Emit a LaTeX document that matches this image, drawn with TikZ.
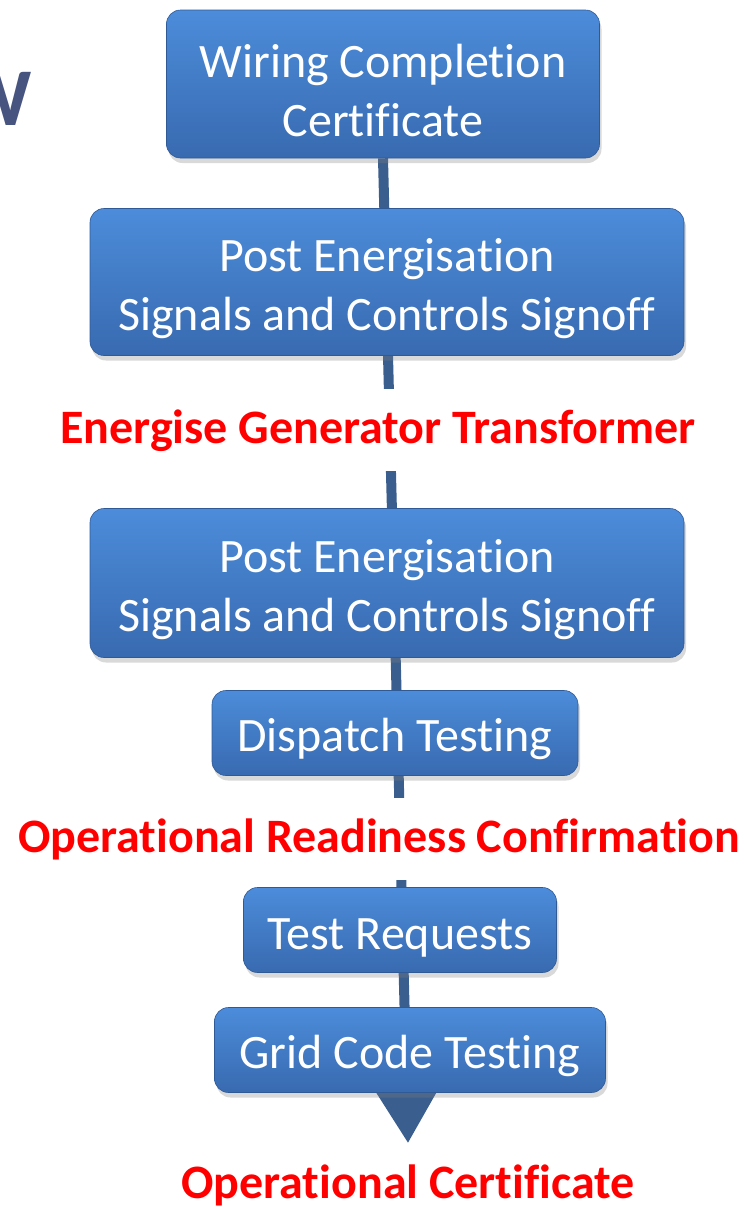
\documentclass[tikz,border=0pt]{standalone}
\usepackage{fontspec}
\setmainfont{Carlito}[Ligatures=NoCommon]
\usetikzlibrary{arrows.meta,shadows,backgrounds}
\definecolor{boxtop}{RGB}{76,140,218}
\definecolor{boxbot}{RGB}{56,106,176}
\definecolor{flowline}{RGB}{58,94,142}
\definecolor{stagered}{RGB}{255,0,0}
\definecolor{titleblue}{RGB}{72,84,128}

\tikzset{
  stepbox/.style={rectangle, rounded corners=14pt, top color=boxtop, bottom color=boxbot,
    draw=boxbot!85!black, line width=0.6pt, text=white, align=center, inner sep=0pt,
    font=\fontsize{48}{59}\selectfont, execute at begin node={\rule{0pt}{46pt}},
    drop shadow={shadow xshift=2pt, shadow yshift=-5pt, opacity=0.3}},
  stagelabel/.style={fill=white, text=stagered, inner xsep=2pt, inner ysep=20pt,
    font=\bfseries\fontsize{48}{56}\selectfont},
}

\begin{document}
\begin{tikzpicture}[x=1pt,y=-1pt]
  \useasboundingbox (0,0) rectangle (744,1208);
  % cut-off title
  \node[anchor=base east, inner sep=0pt, text=titleblue, font=\bfseries\fontsize{82}{90}\selectfont] (title) at (32,125) {W};
  % steps
  \node[stepbox, minimum width=433, minimum height=148] (wcc) at (383,84) {\rule{0pt}{46pt}Wiring Completion\\Certificate};
  \node[stepbox, minimum width=594, minimum height=147] (pes1) at (387,282) {\rule{0pt}{46pt}Post Energisation\\Signals and Controls Signoff};
  \node[stepbox, minimum width=594, minimum height=149] (pes2) at (387,583) {\rule{0pt}{46pt}Post Energisation\\Signals and Controls Signoff};
  \node[stepbox, minimum width=366, minimum height=85] (disp) at (395,733) {Dispatch Testing};
  \node[stepbox, minimum width=313, minimum height=85] (treq) at (400,930) {Test Requests};
  \node[stepbox, minimum width=391, minimum height=85] (gct) at (410,1050) {Grid Code Testing};
  % stages
  \node[stagelabel, anchor=base] (egt) at (378,443) {Energise Generator Transformer};
  \node[stagelabel, anchor=base] (orc) at (379,852) {Operational Readiness Confirmation};
  \node[stagelabel, anchor=base] (opc) at (408,1198) {Operational Certificate};
  % flow line behind everything
  \coordinate (tip) at (408,1143);
  \begin{scope}[on background layer]
    \draw[flowline, line width=10pt, -{Triangle[width=63pt,length=55pt]}] (wcc.south) -- (tip);
  \end{scope}
\end{tikzpicture}
\end{document}
